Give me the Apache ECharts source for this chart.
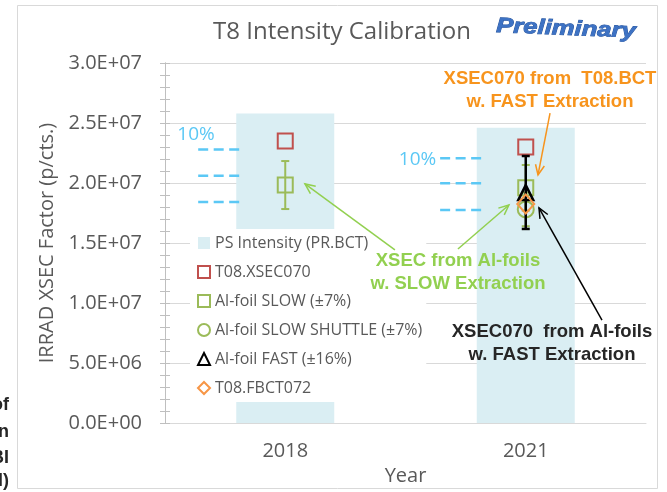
<!DOCTYPE html>
<html>
<head>
<meta charset="utf-8">
<title>T8 Intensity Calibration</title>
<script src="https://cdn.jsdelivr.net/npm/echarts@6/dist/echarts.min.js"></script>
<style>
  html, body { margin: 0; padding: 0; background: #ffffff; }
  #chart { width: 667px; height: 492px; }
</style>
</head>
<body>
<div id="chart"></div>
<script>
var years = ["2018", "2021"];
var yTickLabels = ["0.0E+00", "5.0E+06", "1.0E+07", "1.5E+07", "2.0E+07", "2.5E+07", "3.0E+07"];

var psIntensity = [25.8e6, 24.6e6];
var xsec070 = [23.5e6, 23.0e6];
var slowFoil = [19.83e6, 19.6e6];
var shuttleFoil = [null, 17.8e6];
var fastFoil = [null, 19.2e6];
var fbct072 = [null, 18.25e6];

// error bars: [category index, low, high]
var slowFoilErr = [[0, 17.83e6, 21.83e6], [1, 17.7e6, 21.5e6]];
var shuttleErr = [[1, 16.4e6, 19.2e6]];
var fastErr = [[1, 16.17e6, 22.25e6]];

// 10% guide dashes: [xFrom, xTo, y] on the hidden value x axis (years sit at 0 and 1)
var tenPctDashes = [
  [-0.362, -0.179, 22.8e6], [-0.362, -0.179, 20.6e6], [-0.362, -0.179, 18.42e6],
  [0.644, 0.823, 22.06e6], [0.644, 0.823, 19.97e6], [0.644, 0.823, 17.75e6]
];
var tenPctLabels = [[-0.371, 24.0e6], [0.550, 21.92e6]];

// annotation arrows: [xFrom, yFrom, xTo, yTo]
var greenArrows = [[0.456, 14.42e6, 0.082, 19.92e6], [0.718, 14.5e6, 0.930, 18.17e6]];
var orangeArrows = [[1.101, 25.83e6, 1.051, 20.67e6]];
var blackArrows = [[1.317, 8.58e6, 1.055, 17.92e6]];

var font = "'Open Sans', 'Noto Sans', sans-serif";
var boldFont = "'Liberation Sans', Arial, sans-serif";

function errorBar(width) {
  return function(params, api) {
    var lo = api.coord([api.value(0), api.value(1)]);
    var hi = api.coord([api.value(0), api.value(2)]);
    var style = { stroke: api.visual("color"), lineWidth: width };
    return {
      type: "group",
      children: [
        { type: "line", shape: { x1: lo[0], y1: lo[1], x2: hi[0], y2: hi[1] }, style: style },
        { type: "line", shape: { x1: lo[0] - 4, y1: lo[1], x2: lo[0] + 4, y2: lo[1] }, style: style },
        { type: "line", shape: { x1: hi[0] - 4, y1: hi[1], x2: hi[0] + 4, y2: hi[1] }, style: style }
      ]
    };
  };
}

function renderArrow(params, api) {
  var p0 = api.coord([api.value(0), api.value(1)]);
  var p1 = api.coord([api.value(2), api.value(3)]);
  var ang = Math.atan2(p1[1] - p0[1], p1[0] - p0[0]);
  var len = 11, spread = 0.42;
  var h1 = [p1[0] - len * Math.cos(ang - spread), p1[1] - len * Math.sin(ang - spread)];
  var h2 = [p1[0] - len * Math.cos(ang + spread), p1[1] - len * Math.sin(ang + spread)];
  var style = { stroke: api.visual("color"), lineWidth: 1.5, fill: null };
  return {
    type: "group",
    children: [
      { type: "line", shape: { x1: p0[0], y1: p0[1], x2: p1[0], y2: p1[1] }, style: style },
      { type: "polyline", shape: { points: [h1, p1, h2] }, style: style }
    ]
  };
}

function renderDash(params, api) {
  var a = api.coord([api.value(0), api.value(2)]);
  var b = api.coord([api.value(1), api.value(2)]);
  return {
    type: "line",
    shape: { x1: a[0], y1: a[1], x2: b[0], y2: b[1] },
    style: { stroke: "#5bc8f5", lineWidth: 2.5, lineDash: [10, 5.5] }
  };
}

function renderTenPct(params, api) {
  var p = api.coord([api.value(0), api.value(1)]);
  return {
    type: "text",
    x: p[0],
    y: p[1],
    style: {
      text: "10%",
      fill: "#5bc8f5",
      font: "19px " + font,
      textAlign: "center",
      textVerticalAlign: "middle"
    }
  };
}

function annotation(x, y, lines, color) {
  return lines.map(function(t, i) {
    return {
      type: "text",
      x: x,
      y: y + i * 22.5,
      z: 100,
      style: {
        text: t,
        fill: color,
        font: "bold 18.5px " + boldFont,
        textAlign: "center",
        textVerticalAlign: "middle"
      }
    };
  });
}

var chart = echarts.init(document.getElementById("chart"), null, { renderer: "canvas" });

var option = {
  backgroundColor: "#ffffff",
  animation: false,
  textStyle: { fontFamily: font },
  title: {
    text: "T8 Intensity Calibration",
    left: 337,
    top: 15,
    textAlign: "center",
    textStyle: { fontFamily: font, fontSize: 24, fontWeight: "normal", color: "#595959" }
  },
  legend: {
    orient: "vertical",
    left: 190,
    top: 229,
    padding: [6, 4, 6, 7],
    itemWidth: 12,
    itemHeight: 12,
    itemGap: 13,
    backgroundColor: "#ffffff",
    textStyle: { fontFamily: font, fontSize: 16, lineHeight: 16, color: "#595959" },
    data: [
      { name: "PS Intensity (PR.BCT)", icon: "rect" },
      "T08.XSEC070",
      "Al-foil SLOW (±7%)",
      "Al-foil SLOW SHUTTLE (±7%)",
      "Al-foil FAST (±16%)",
      "T08.FBCT072"
    ]
  },
  grid: { left: 165, right: 21, top: 63, bottom: 69, outerBoundsMode: "none" },
  xAxis: [
    {
      type: "category",
      data: years,
      boundaryGap: true,
      name: "Year",
      nameLocation: "middle",
      nameGap: 43,
      nameTextStyle: { fontFamily: font, fontSize: 20, color: "#595959" },
      axisLine: { show: true, onZero: false, lineStyle: { color: "#d9d9d9", width: 1 } },
      axisTick: { show: false },
      axisLabel: { fontFamily: font, fontSize: 20, color: "#595959", margin: 18 },
      splitLine: { show: false }
    },
    {
      type: "value",
      min: -0.5,
      max: 1.5,
      show: false
    }
  ],
  yAxis: [
    {
      type: "value",
      min: 0,
      max: 30000000,
      interval: 5000000,
      name: "IRRAD XSEC Factor (p/cts.)",
      nameLocation: "middle",
      nameGap: 107,
      nameTextStyle: { fontFamily: font, fontSize: 20, color: "#595959" },
      axisLine: { show: true, onZero: false, lineStyle: { color: "#bfbfbf", width: 1 } },
      axisTick: { show: true, length: 5, lineStyle: { color: "#bfbfbf" } },
      minorTick: { show: true, splitNumber: 5, length: 5, lineStyle: { color: "#bfbfbf" } },
      axisLabel: {
        fontFamily: font,
        fontSize: 20,
        color: "#595959",
        margin: 23,
        formatter: function(v) { return yTickLabels[Math.round(v / 5000000)]; }
      },
      splitLine: { show: true, lineStyle: { color: "#d9d9d9", width: 1 } }
    },
    {
      // same scale again, only to draw the inner half of the crossing ticks
      type: "value",
      position: "left",
      min: 0,
      max: 30000000,
      interval: 5000000,
      axisLine: { show: true, onZero: false, lineStyle: { color: "#bfbfbf", width: 1 } },
      axisTick: { show: true, inside: true, length: 5, lineStyle: { color: "#bfbfbf" } },
      minorTick: { show: true, splitNumber: 5, length: 5, lineStyle: { color: "#bfbfbf" } },
      axisLabel: { show: false },
      splitLine: { show: false }
    }
  ],
  series: [
    {
      name: "PS Intensity (PR.BCT)",
      type: "bar",
      data: psIntensity,
      barWidth: 98,
      itemStyle: { color: "#daeef3" },
      z: 1
    },
    {
      name: "10% dashes",
      type: "custom",
      xAxisIndex: 1,
      renderItem: renderDash,
      encode: { x: [0, 1], y: 2 },
      data: tenPctDashes,
      z: 3
    },
    {
      name: "10% labels",
      type: "custom",
      xAxisIndex: 1,
      renderItem: renderTenPct,
      encode: { x: 0, y: 1 },
      data: tenPctLabels,
      z: 3
    },
    {
      name: "T08.XSEC070",
      type: "scatter",
      data: xsec070,
      symbol: "rect",
      symbolSize: 15,
      itemStyle: { color: "rgba(0,0,0,0)", borderColor: "#c0504d", borderWidth: 2, opacity: 1 },
      z: 5
    },
    {
      name: "slow err",
      type: "custom",
      renderItem: errorBar(2),
      encode: { x: 0, y: [1, 2] },
      data: slowFoilErr,
      itemStyle: { color: "#9bbb59" },
      z: 5
    },
    {
      name: "shuttle err",
      type: "custom",
      renderItem: errorBar(2),
      encode: { x: 0, y: [1, 2] },
      data: shuttleErr,
      itemStyle: { color: "#9bbb59" },
      z: 5
    },
    {
      name: "Al-foil SLOW (±7%)",
      type: "scatter",
      data: slowFoil,
      symbol: "rect",
      symbolSize: 15,
      itemStyle: { color: "rgba(0,0,0,0)", borderColor: "#9bbb59", borderWidth: 2, opacity: 1 },
      z: 6
    },
    {
      name: "Al-foil SLOW SHUTTLE (±7%)",
      type: "scatter",
      data: shuttleFoil,
      symbol: "circle",
      symbolSize: 16,
      itemStyle: { color: "rgba(0,0,0,0)", borderColor: "#9bbb59", borderWidth: 2, opacity: 1 },
      z: 6
    },
    {
      name: "fast err",
      type: "custom",
      renderItem: errorBar(2.5),
      encode: { x: 0, y: [1, 2] },
      data: fastErr,
      itemStyle: { color: "#000000" },
      z: 7
    },
    {
      name: "Al-foil FAST (±16%)",
      type: "scatter",
      data: fastFoil,
      symbol: "triangle",
      symbolSize: 15,
      itemStyle: { color: "rgba(0,0,0,0)", borderColor: "#000000", borderWidth: 2.5, opacity: 1 },
      z: 7
    },
    {
      name: "T08.FBCT072",
      type: "scatter",
      data: fbct072,
      symbol: "diamond",
      symbolSize: [17, 19],
      itemStyle: { color: "rgba(0,0,0,0)", borderColor: "#f79646", borderWidth: 2, opacity: 1 },
      z: 8
    },
    {
      name: "green arrows",
      type: "custom",
      xAxisIndex: 1,
      renderItem: renderArrow,
      encode: { x: [0, 2], y: [1, 3] },
      data: greenArrows,
      itemStyle: { color: "#92d050" },
      z: 9
    },
    {
      name: "orange arrows",
      type: "custom",
      xAxisIndex: 1,
      renderItem: renderArrow,
      encode: { x: [0, 2], y: [1, 3] },
      data: orangeArrows,
      itemStyle: { color: "#f7941d" },
      z: 9
    },
    {
      name: "black arrows",
      type: "custom",
      xAxisIndex: 1,
      renderItem: renderArrow,
      encode: { x: [0, 2], y: [1, 3] },
      data: blackArrows,
      itemStyle: { color: "#000000" },
      z: 9
    }
  ],
  graphic: [
    {
      type: "rect",
      shape: { x: 17.5, y: 5.5, width: 640, height: 483 },
      style: { fill: null, stroke: "#d9d9d9", lineWidth: 1 },
      silent: true,
      z: -10
    },
    {
      type: "text",
      x: 566,
      y: 29,
      scaleX: 1.22,
      rotation: -0.04,
      style: {
        text: "Preliminary",
        font: "italic bold 21px " + boldFont,
        fill: "#3d72c4",
        stroke: "#1f4e99",
        lineWidth: 0.8,
        textAlign: "center",
        textVerticalAlign: "middle",
        shadowColor: "rgba(0,0,0,0.35)",
        shadowOffsetX: 2,
        shadowOffsetY: 2,
        shadowBlur: 1
      }
    }
  ]
    .concat(annotation(550, 79, ["XSEC070 from  T08.BCT", "w. FAST Extraction"], "#f7941d"))
    .concat(annotation(458, 261, ["XSEC from Al-foils", "w. SLOW Extraction"], "#92d050"))
    .concat(annotation(552, 332, ["XSEC070  from Al-foils", "w. FAST Extraction"], "#262626"))
    .concat(["of", "n", "BI", "l)"].map(function(t, i) {
      return {
        type: "text",
        x: 9,
        y: [405, 432, 458, 481][i],
        style: {
          text: t,
          fill: "#262626",
          font: "bold 18px " + boldFont,
          textAlign: "right",
          textVerticalAlign: "middle"
        }
      };
    }))
};

chart.setOption(option);
window.onresize = function() {
  chart.resize();
};
</script>
</body>
</html>
